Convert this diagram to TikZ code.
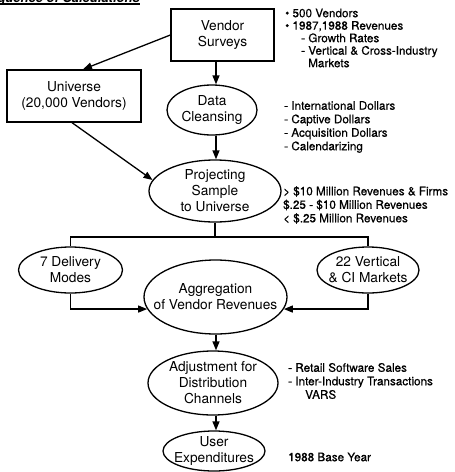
\documentclass[tikz,border=0pt]{standalone}
\usepackage{fontspec}
\setmainfont{TeX Gyre Heros}
\newfontfamily\notefont[FakeBold=0.6]{TeX Gyre Heros}
\usetikzlibrary{shapes.geometric,arrows.meta,calc}
\begin{document}
\begin{tikzpicture}[x=1pt,y=-1pt,
  lbl/.style={font=\fontsize{13.7}{16}\selectfont, align=center},
  boxn/.style={draw, line width=1.3pt, lbl, inner sep=0pt},
  ell/.style={draw, ellipse, line width=1.3pt, lbl, inner xsep=-45pt, inner ysep=-18pt},
  note/.style={font=\notefont\fontsize{11.7}{13.5}\selectfont, align=left, anchor=west, inner sep=0pt},
  arr/.style={-{Triangle[length=9pt,width=7pt]}, line width=1.3pt},
  conn/.style={line width=1.3pt}]
\useasboundingbox (0,0) rectangle (455,472);

% clipped title fragment
\begin{scope}
\clip (0,0) rectangle (455,5);
\node[anchor=base east, inner sep=0pt, font=\bfseries\itshape\fontsize{13}{15}\selectfont] (ttl) at (140,2) {Sequence of Calculations};
\draw[line width=1.6pt] (ttl.base west |- 0,3.8) -- (ttl.base east |- 0,3.8);
\end{scope}

\coordinate (ax) at (216,0);
\coordinate (bus) at (0,237);

\node[boxn, minimum width=103pt, minimum height=52pt] (vs) at (222.5,35) {Vendor\\Surveys};
\node[boxn, minimum width=134pt, minimum height=52pt] (uni) at (74,96) {Universe\\(20,000 Vendors)};
\node[ell, minimum width=90pt, minimum height=50pt] (dc) at (212,110) {Data\\Cleansing};
\node[ell, minimum width=132pt, minimum height=62pt] (proj) at (215,191) {Projecting\\Sample\\to Universe};
\node[ell, minimum width=104pt, minimum height=46pt] (dm) at (70.5,270) {7 Delivery\\Modes};
\node[ell, minimum width=102pt, minimum height=46pt] (vm) at (368,270) {22 Vertical\\\& CI Markets};
\node[ell, minimum width=143pt, minimum height=74pt] (agg) at (215.5,297) {Aggregation\\of Vendor Revenues};
\node[ell, minimum width=130pt, minimum height=64pt] (adj) at (213,383) {Adjustment for\\Distribution\\Channels};
\node[ell, minimum width=102pt, minimum height=40pt] (ue) at (214,451) {User\\Expenditures};

\draw[arr] (vs.west) -- ($(uni.north)+(9,0)$);
\draw[arr] (vs.south -| ax) -- (dc.north -| ax);
\draw[arr] (dc.south -| ax) -- (proj.north -| ax);
\draw[arr] ($(uni.south)+(-2,0)$) -- (proj.170);
\draw[conn] (proj.south) -- (proj.south |- bus);
\draw[conn] (dm.north) -- (dm.north |- bus) -- (vm.north |- bus) -- (vm.north);
\draw[arr] (dm.south) |- (agg.190);
\draw[arr] (vm.south) |- (agg.350);
\draw[arr] (agg.south -| ax) -- (adj.north -| ax);
\draw[arr] (adj.south -| ax) -- (ue.north -| ax);

\node[note, font=\notefont\fontsize{11.7}{12.5}\selectfont] (n1) at (285,38) {\textbullet\ 500 Vendors\\\textbullet\ 1987,1988 Revenues\\\hspace*{16pt}- Growth Rates\\\hspace*{16pt}- Vertical \& Cross-Industry\\\hspace*{23pt}Markets};
\node[note] (n2) at (284,127) {- International Dollars\\- Captive Dollars\\- Acquisition Dollars\\- Calendarizing};
\node[note] (n3) at (283,205) {> \$10 Million Revenues \& Firms\\\$.25 - \$10 Million Revenues\\< \$.25 Million Revenues};
\node[note] (n4) at (288,381) {- Retail Software Sales\\- Inter-Industry Transactions\\\hspace*{17pt}VARS};
\node[note] (n5) at (288,457) {1988 Base Year};
\end{tikzpicture}
\end{document}
